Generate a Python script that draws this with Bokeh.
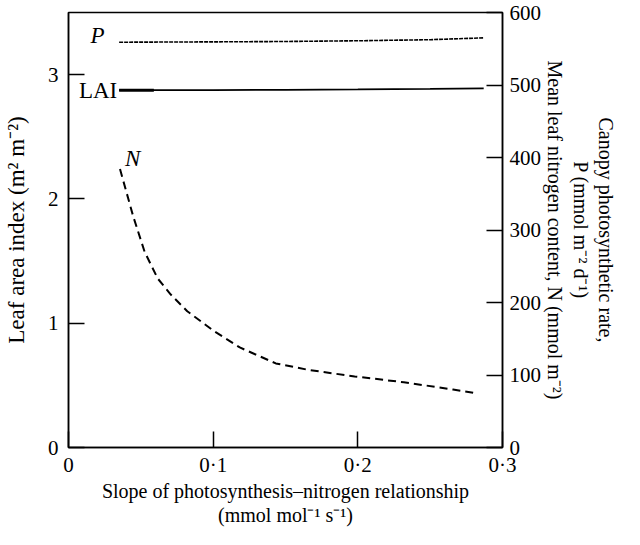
from bokeh.plotting import figure
from bokeh.models import (Range1d, LinearAxis, FixedTicker, CustomJSTickFormatter, Label)
from bokeh.embed import file_html
from bokeh.resources import INLINE

# ---- data ----
slope_N = [0.0356, 0.0447, 0.0526, 0.0617, 0.0707, 0.0821, 0.1002, 0.1184,
           0.1433, 0.166, 0.1978, 0.2318, 0.2658, 0.2816]
leaf_N = [384, 319, 270, 233, 211, 188, 161, 138, 116, 107, 98, 90, 80, 75]

slope_LAI = [0.035, 0.059, 0.10, 0.15, 0.20, 0.25, 0.287]
lai = [2.875, 2.875, 2.876, 2.878, 2.881, 2.885, 2.89]

slope_P = [0.035, 0.10, 0.15, 0.20, 0.25, 0.287]
canopy_P = [559, 559.5, 560, 561, 562.5, 565]

x_ticks = [0, 0.1, 0.2, 0.3]
left_ticks = [0, 1, 2, 3]
right_ticks = [0, 100, 200, 300, 400, 500, 600]

x_title = "Slope of photosynthesis\u2013nitrogen relationship\n(mmol mol\u207b\u00b9 s\u207b\u00b9)"
left_title = "Leaf area index (m\u00b2 m\u207b\u00b2)"
right_title = ("Canopy photosynthetic rate,\nP (mmol m\u207b\u00b2 d\u207b\u00b9)\n"
               "Mean leaf nitrogen content, N (mmol m\u207b\u00b2)")

FONT = "Liberation Serif"
W, H = 624, 529
SL, SR, ST, SB = 66, 502, 12, 447   # frame edges in canvas pixels

p = figure(width=W, height=H, output_backend="svg", toolbar_location=None,
           x_range=Range1d(0, 0.3), y_range=Range1d(0, 3.5),
           min_border_left=SL, min_border_right=W - SR,
           min_border_top=ST, min_border_bottom=H - SB)
p.extra_y_ranges = {"right": Range1d(0, 600)}
p.xgrid.visible = False
p.ygrid.visible = False
p.background_fill_color = "white"
p.border_fill_color = "white"
p.outline_line_color = "black"
p.outline_line_width = 1.5
p.outline_line_alpha = 1.0


def style_axis(ax, ticks):
    ax.ticker = FixedTicker(ticks=ticks)
    ax.minor_tick_line_color = None
    ax.major_tick_in = 16
    ax.major_tick_out = 0
    ax.major_tick_line_width = 1.5
    ax.major_tick_line_color = "black"
    ax.axis_line_width = 1.5
    ax.axis_line_color = "black"
    ax.major_label_text_font = FONT
    ax.major_label_text_font_size = "21px"
    ax.major_label_text_color = "black"
    ax.major_label_standoff = 10
    ax.axis_label_text_font = FONT
    ax.axis_label_text_font_style = "normal"
    ax.axis_label_text_color = "black"


xa = p.xaxis[0]
style_axis(xa, x_ticks)
xa.major_label_standoff = 5
xa.formatter = CustomJSTickFormatter(
    code="return tick == 0 ? '0' : tick.toFixed(1).replace('.', '\u00b7');")
xa.axis_label = x_title
xa.axis_label_text_font_size = "20px"
xa.axis_label_text_line_height = 1.1
xa.axis_label_standoff = 0

ya = p.yaxis[0]
style_axis(ya, left_ticks)
ya.axis_label = left_title
ya.axis_label_text_font_size = "23px"
ya.axis_label_standoff = 16

ra = LinearAxis(y_range_name="right")
style_axis(ra, right_ticks)
ra.major_label_standoff = 7
ra.axis_label = right_title
ra.axis_label_text_font_size = "20px"
ra.axis_label_text_line_height = 1.16
ra.axis_label_standoff = 0
p.add_layout(ra, "right")

# ---- lines ----
p.line(slope_N, leaf_N, y_range_name="right", line_color="black",
       line_width=2, line_dash="8 5")
p.line(slope_LAI, lai, line_color="black", line_width=1.8)
p.line(slope_LAI[:2], lai[:2], line_color="black", line_width=3)
p.line(slope_P, canopy_P, y_range_name="right", line_color="black",
       line_width=1.6, line_dash="4 1")


def lab(x, y, text, **kw):
    opts = dict(text_font=FONT, text_font_size="23px", text_color="black",
                text_align="center", text_baseline="middle")
    opts.update(kw)
    p.add_layout(Label(x=x, y=y, text=text, **opts))


# curve labels (offsets from the start of each curve)
lab(slope_P[0] - 0.010, canopy_P[0] + 9, "P", y_range_name="right",
    text_align="right", text_font_style="italic")
lab(slope_LAI[0] - 0.0013, lai[0], "LAI", text_align="right")
lab(slope_N[0] + 0.0035, leaf_N[0] + 14, "N", y_range_name="right",
    text_align="left", text_font_style="italic")

open("out.html", "w").write(file_html(p, INLINE))
